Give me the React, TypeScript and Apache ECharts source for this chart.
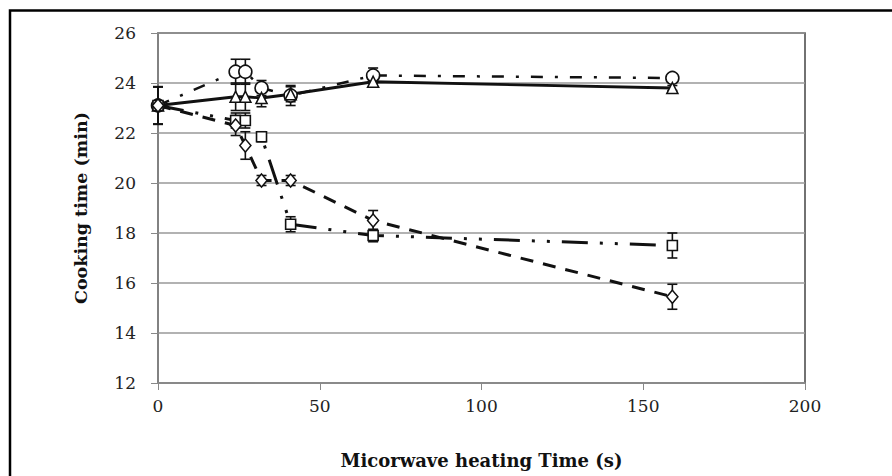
import React, { useEffect, useRef } from "react";
import * as echarts from "echarts";

const xValues = [0, 24, 27, 32, 41, 66.5, 159];
const circleValues = [23.1, 24.45, 24.45, 23.8, 23.5, 24.3, 24.2];
const circleErr = [0.75, 0.5, 0.5, 0.3, 0.4, 0.3, 0.1];
const triangleValues = [23.1, 23.45, 23.45, 23.4, 23.55, 24.05, 23.8];
const triangleErr = [0.75, 0.55, 0.55, 0.35, 0.3, 0.2, 0.1];
const squareValues = [23.1, 22.5, 22.5, 21.85, 18.35, 17.9, 17.5];
const squareErr = [0.75, 0.3, 0.3, 0.2, 0.3, 0.25, 0.5];
const diamondValues = [23.1, 22.3, 21.5, 20.1, 20.1, 18.5, 15.45];
const diamondErr = [0.75, 0.4, 0.55, 0.2, 0.2, 0.4, 0.5];

const xTicks = [0, 50, 100, 150, 200];
const yTicks = [12, 14, 16, 18, 20, 22, 24, 26];

const FONT = "'DejaVu Serif', 'Liberation Serif', serif";

function pairs(vals: number[]) {
  return xValues.map((x, i) => [x, vals[i]]);
}
function errPairs(vals: number[], errs: number[]) {
  return xValues.map((x, i) => [x, vals[i] - errs[i], vals[i] + errs[i]]);
}

export default function App() {
  const ref = useRef<HTMLDivElement>(null);
  useEffect(() => {
    if (!ref.current) return;
    const chart = echarts.init(ref.current, undefined, { renderer: "svg" });
    const errorSeries = (vals: number[], errs: number[]) => ({
      type: "custom",
      z: 1,
      silent: true,
      data: errPairs(vals, errs),
      renderItem: (params: any, api: any) => {
        const x = api.value(0);
        const lo = api.coord([x, api.value(1)]);
        const hi = api.coord([x, api.value(2)]);
        const w = 5;
        const st = { stroke: "#111", lineWidth: 1.6 };
        return {
          type: "group",
          children: [
            { type: "line", shape: { x1: lo[0], y1: lo[1], x2: hi[0], y2: hi[1] }, style: st },
            { type: "line", shape: { x1: lo[0] - w, y1: lo[1], x2: lo[0] + w, y2: lo[1] }, style: st },
            { type: "line", shape: { x1: hi[0] - w, y1: hi[1], x2: hi[0] + w, y2: hi[1] }, style: st },
          ],
        };
      },
    });
    const lineSeries = (name: string, vals: number[], symbol: string, size: number | number[], dash: any, width: number) => ({
      type: "line",
      name,
      z: 3,
      data: pairs(vals),
      symbol,
      symbolSize: size,
      showAllSymbol: true,
      lineStyle: { color: "#111", width, type: dash },
      itemStyle: { color: "#fff", borderColor: "#111", borderWidth: 1.6 },
    });
    chart.setOption({
      animation: false,
      backgroundColor: "#fff",
      grid: { left: 158, right: 87, top: 33, bottom: 93, show: true, borderColor: "#444", borderWidth: 1.5 },
      xAxis: {
        type: "value",
        min: xTicks[0],
        max: xTicks[xTicks.length - 1],
        interval: 50,
        name: "Micorwave heating Time (s)",
        nameLocation: "middle",
        nameGap: 68,
        nameTextStyle: { fontFamily: FONT, fontWeight: "bold", fontSize: 18, color: "#111" },
        axisLine: { show: true, lineStyle: { color: "#888", width: 1.5 } },
        axisTick: { show: true, length: 7, lineStyle: { color: "#888" } },
        axisLabel: { fontFamily: FONT, fontSize: 17, color: "#222", margin: 14 },
        splitLine: { show: false },
      },
      yAxis: {
        type: "value",
        min: yTicks[0],
        max: yTicks[yTicks.length - 1],
        interval: 2,
        name: "Cooking time (min)",
        nameLocation: "middle",
        nameGap: 68,
        nameRotate: 90,
        nameTextStyle: { fontFamily: FONT, fontWeight: "bold", fontSize: 17.5, color: "#111" },
        axisLine: { show: true, lineStyle: { color: "#888", width: 1.5 } },
        axisTick: { show: true, length: 7, lineStyle: { color: "#888" } },
        axisLabel: { fontFamily: FONT, fontSize: 17, color: "#222", margin: 22 },
        splitLine: { show: true, lineStyle: { color: "#999", width: 1.5 } },
      },
      graphic: [
        {
          type: "rect",
          silent: true,
          shape: { x: 10, y: 10.5, width: 1200, height: 1200 },
          style: { fill: "none", stroke: "#000", lineWidth: 2.5 },
        },
      ],
      series: [
        errorSeries(circleValues, circleErr),
        errorSeries(triangleValues, triangleErr),
        errorSeries(squareValues, squareErr),
        errorSeries(diamondValues, diamondErr),
        lineSeries("circle", circleValues, "circle", 13, [12, 12, 3, 12], 2.5),
        lineSeries("triangle", triangleValues, "triangle", 11, "solid", 2.8),
        lineSeries("square", squareValues, "rect", 10, [26, 12, 3, 12, 3, 12], 3),
        lineSeries("diamond", diamondValues, "diamond", [11, 13], [13, 10], 3),
      ],
    });
    return () => chart.dispose();
  }, []);
  return <div ref={ref} style={{ width: 892, height: 476, position: "absolute", left: 0, top: 0 }} />;
}
